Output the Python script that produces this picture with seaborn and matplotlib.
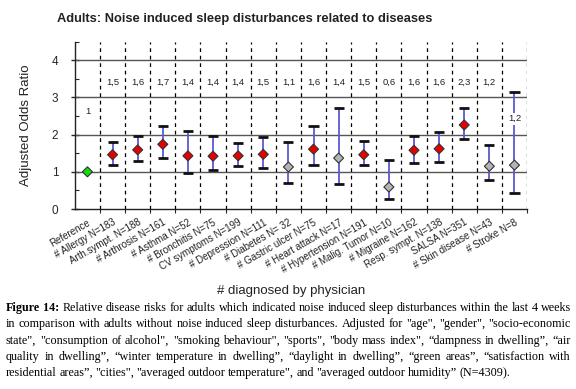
import numpy as np
import pandas as pd
import seaborn as sns
import matplotlib.pyplot as plt

categories = ["Reference", "# Allergy N=183", "Arth.sympt. N=188", "# Arthrosis N=161",
              "# Asthma N=52", "# Bronchitis N=75", "CV symptoms N=199", "# Depression N=111",
              "# Diabetes N= 32", "# Gastric ulcer N=75", "# Heart attack N=17",
              "# Hypertension N=191", "# Malig. Tumor N=10", "# Migraine N=162",
              "Resp. sympt. N=138", "SALSA N=351", "# Skin disease N=43", "# Stroke N=8"]
odds = [1.0, 1.46, 1.59, 1.74, 1.43, 1.42, 1.43, 1.47, 1.13, 1.61, 1.37, 1.46, 0.59,
        1.58, 1.62, 2.26, 1.15, 1.18]
lower = [np.nan, 1.17, 1.28, 1.38, 0.97, 1.04, 1.16, 1.11, 0.71, 1.17, 0.68, 1.17, 0.27,
         1.24, 1.27, 1.88, 0.78, 0.44]
upper = [np.nan, 1.80, 1.97, 2.22, 2.10, 1.96, 1.78, 1.94, 1.81, 2.24, 2.72, 1.83, 1.31,
         1.97, 2.07, 2.71, 1.71, 3.14]
status = ["reference", "sig", "sig", "sig", "sig", "sig", "sig", "sig", "ns", "sig", "ns",
          "sig", "ns", "sig", "sig", "sig", "ns", "ns"]
labels = ["1", "1,5", "1,6", "1,7", "1,4", "1,4", "1,4", "1,5", "1,1", "1,6", "1,4", "1,5",
          "0,6", "1,6", "1,6", "2,3", "1,2", "1,2"]

caption = [
    ["**Figure 14:**", "Relative disease risks for adults which indicated noise induced sleep disturbances within the last 4 weeks"],
    ["", "in comparison with adults without noise induced sleep disturbances. Adjusted for \"age\", \"gender\", \"socio-economic"],
    ["", "state\", \"consumption of alcohol\", \"smoking behaviour\", \"sports\", \"body mass index\", \u201cdampness in dwelling\u201d, \u201cair"],
    ["", "quality in dwelling\u201d, \u201cwinter temperature in dwelling\u201d, \u201cdaylight in dwelling\u201d, \u201cgreen areas\u201d, \u201csatisfaction with"],
    ["", "residential areas\u201d, \"cities\", \"averaged outdoor temperature\", and \"averaged outdoor humidity\u201d (N=4309)."],
]

df = pd.DataFrame({"cat": categories, "x": np.arange(len(categories)), "odds": odds,
                   "lower": lower, "upper": upper, "status": status})

sns.set_theme(style="white")
plt.rcParams["font.family"] = ["Liberation Sans", "DejaVu Sans"]

fig = plt.figure(figsize=(5.76, 3.89), dpi=100)
ax = fig.add_axes([0.130, 0.4627, 0.785, 0.4302])

# grid
for y in [1, 2, 3, 4]:
    ax.axhline(y, color="#555555", lw=1.0, zorder=1)
for xb in np.arange(0.5, len(categories), 1):
    ax.axvline(xb, color="black", lw=0.9, ls=(0, (3, 3)), zorder=1)

ci = df.dropna()
ax.vlines(ci["x"], ci["lower"], ci["upper"], color="#5a5ad2", lw=1.3, zorder=2)
ax.hlines(ci["lower"], ci["x"] - 0.2, ci["x"] + 0.2, color="#111111", lw=2.0, zorder=3)
ax.hlines(ci["upper"], ci["x"] - 0.2, ci["x"] + 0.2, color="#111111", lw=2.0, zorder=3)

palette = {"reference": "#11dd11", "sig": "#e80000", "ns": "#b4b4b4"}
sns.scatterplot(data=df, x="x", y="odds", hue="status", palette=palette, marker="D",
                s=26, edgecolor="#333333", linewidth=0.8, legend=False, ax=ax, zorder=4)

for i, lab in enumerate(labels):
    if i == 0:
        ax.text(i, 2.63, lab, ha="center", va="center", fontsize=6.8, color="#222222")
    elif i == len(labels) - 1:
        ax.text(i, 2.43, lab, ha="center", va="center", fontsize=6.8, color="#222222",
                bbox=dict(facecolor="white", edgecolor="none", pad=1.0), zorder=3)
    else:
        ax.text(i, 3.4, lab, ha="center", va="center", fontsize=6.8, color="#222222")

ax.set_xlim(-0.5, len(categories) - 0.5)
ax.set_ylim(0, 4.5)
ax.set_yticks([0, 1, 2, 3, 4])
ax.set_yticks([0.5, 1.5, 2.5, 3.5, 4.5], minor=True)
ax.tick_params(axis="y", which="major", direction="inout", length=6, width=1,
               labelsize=8.5, pad=9, left=True)
ax.tick_params(axis="y", which="minor", direction="in", length=3, width=0.8, left=True)
ax.set_xticks(np.arange(0.5, len(categories), 1), minor=True)
ax.tick_params(axis="x", which="minor", direction="out", length=3, width=0.8, bottom=True)
ax.set_xticks(df["x"])
ax.set_xticklabels(categories, rotation=30, ha="right", rotation_mode="anchor",
                   fontsize=7, color="#222222")
ax.tick_params(axis="x", which="major", length=0, pad=6)

for side in ["top", "right"]:
    ax.spines[side].set_visible(False)
for side in ["left", "bottom"]:
    ax.spines[side].set_color("#222222")
    ax.spines[side].set_linewidth(1.0)

ax.set_ylabel("Adjusted Odds Ratio", fontsize=9.5, labelpad=14, color="#222222")
ax.set_xlabel("")
fig.text(0.505, 0.252, "# diagnosed by physician", ha="center", va="center",
         fontsize=9.5, color="#222222")
fig.text(0.425, 0.952, "Adults: Noise induced sleep disturbances related to diseases",
         ha="center", va="center", fontsize=9.3, fontweight="bold", color="#222222")

# caption, justified word by word
fig.canvas.draw()
renderer = fig.canvas.get_renderer()
x0, x1 = 6 / 576, 571 / 576
serif = ["Liberation Serif", "DejaVu Serif"]
y_line = 1 - 308 / 389
dy = 16.3 / 389
for li, (bold, rest) in enumerate(caption):
    words = []
    if bold:
        words += [(w, "bold") for w in bold.strip("*").split()]
    words += [(w, "normal") for w in rest.split()]
    texts = [fig.text(0, y_line - li * dy, w, fontsize=8.7, family=serif, fontweight=wt,
                      va="center", ha="left", color="black") for w, wt in words]
    widths = [t.get_window_extent(renderer).width / fig.bbox.width for t in texts]
    last = li == len(caption) - 1
    space = 2.4 / 576
    if not last:
        space = (x1 - x0 - sum(widths)) / (len(texts) - 1)
    xpos = x0
    for t, w in zip(texts, widths):
        t.set_x(xpos)
        xpos += w + space

fig.savefig("out.png", dpi=100)
